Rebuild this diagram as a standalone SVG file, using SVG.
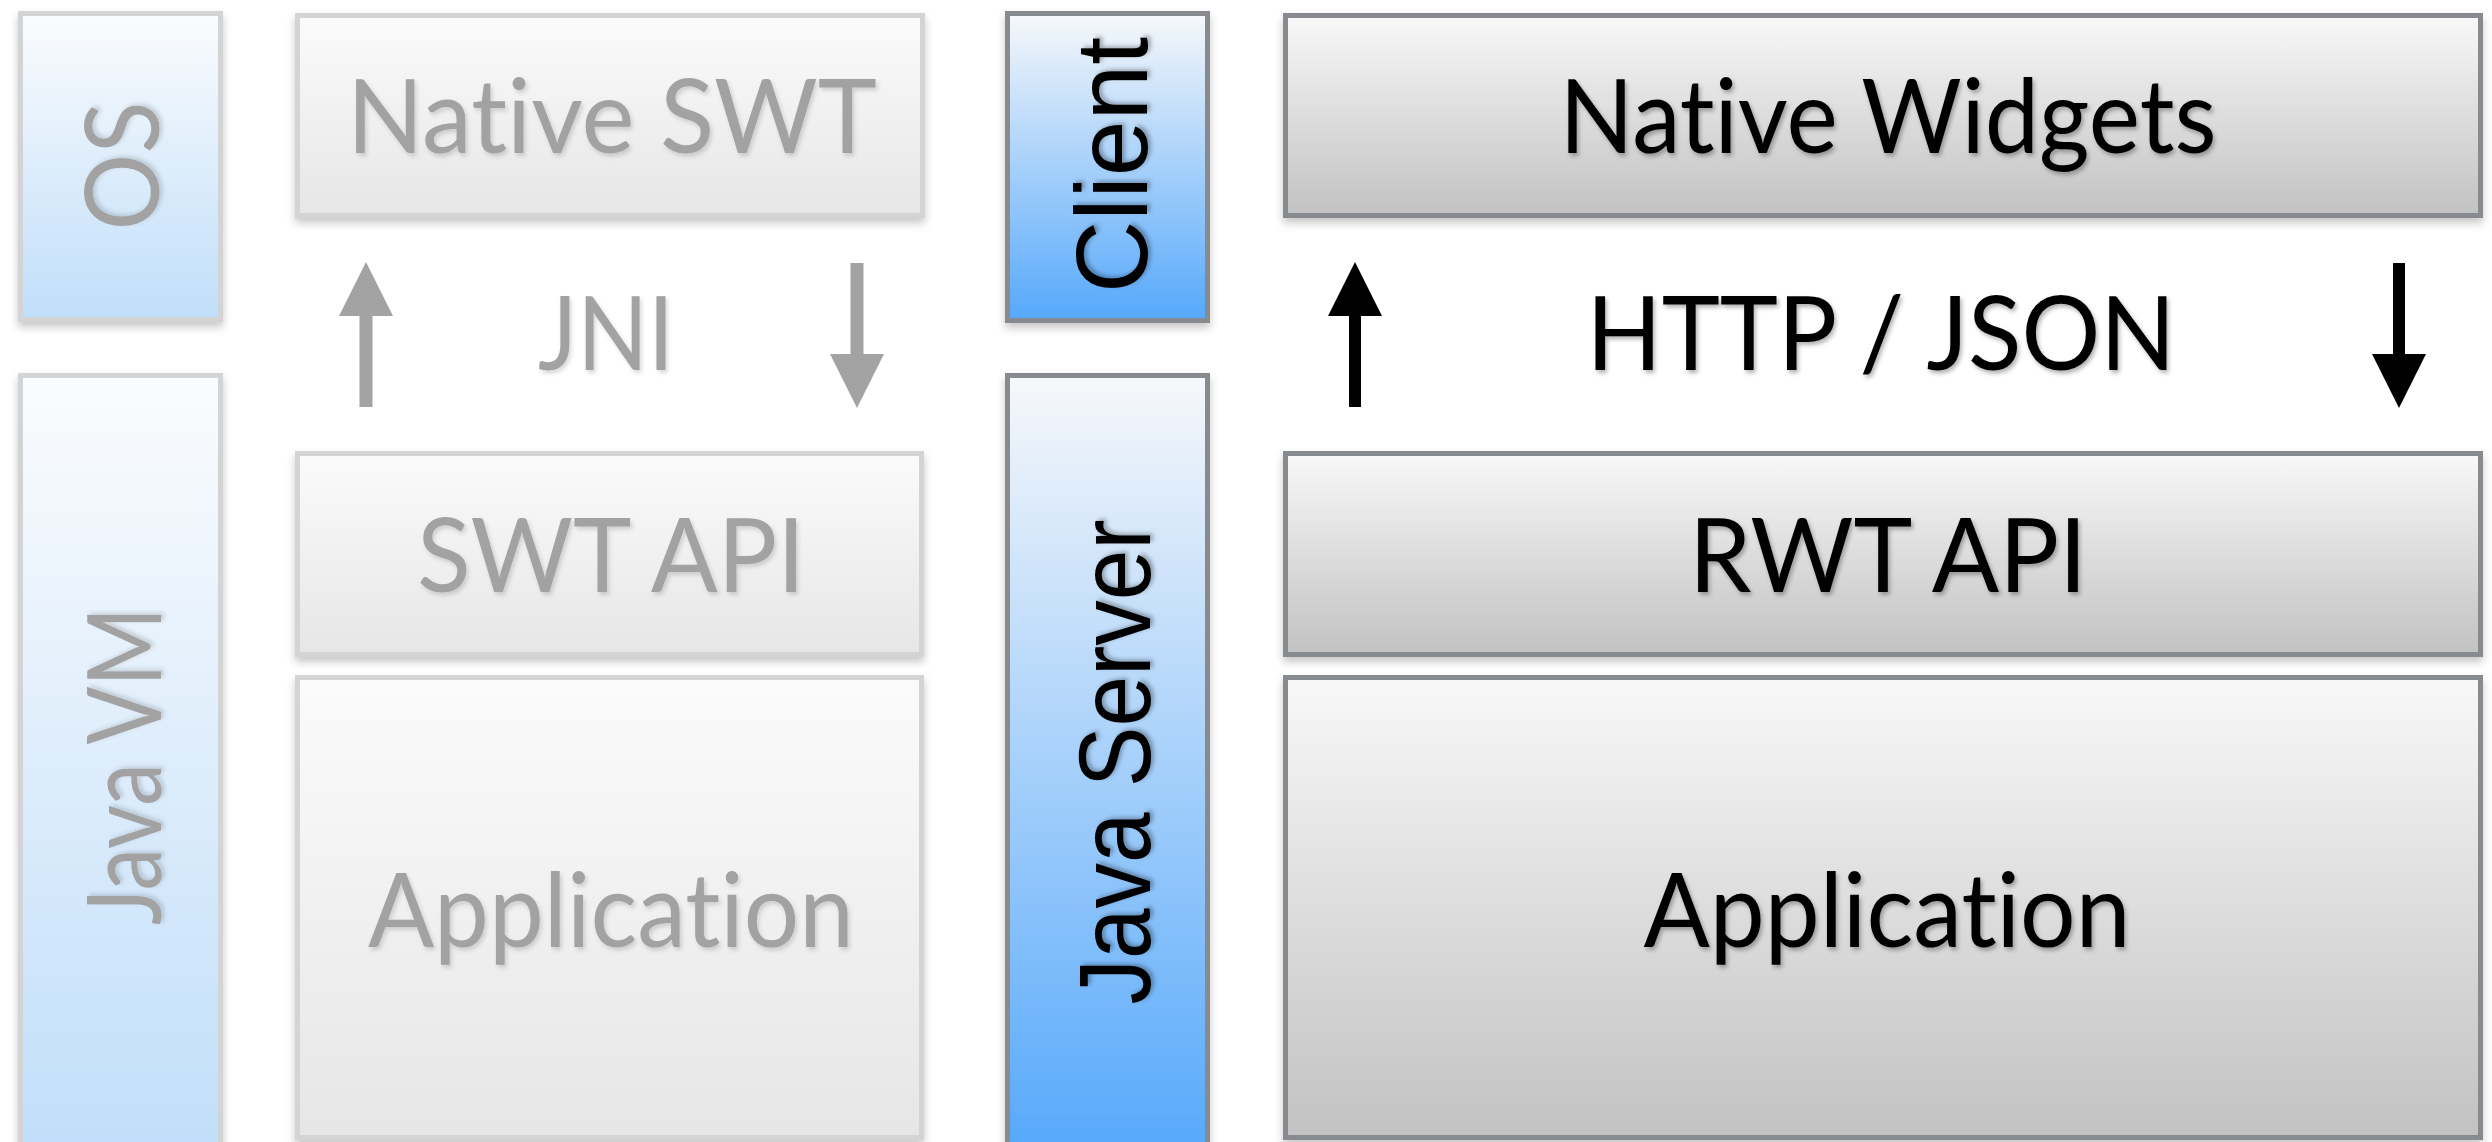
<svg xmlns="http://www.w3.org/2000/svg" width="2492" height="1142" viewBox="0 0 2492 1142">
  <defs>
    <linearGradient id="gBlueFaint" x1="0" y1="0" x2="0" y2="1">
      <stop offset="0" stop-color="#fbfcfd"/>
      <stop offset="1" stop-color="#c0defa"/>
    </linearGradient>
    <linearGradient id="gBlue" x1="0" y1="0" x2="0" y2="1">
      <stop offset="0" stop-color="#f7f8fa"/>
      <stop offset="1" stop-color="#55a8fb"/>
    </linearGradient>
    <linearGradient id="gGreyFaint" x1="0" y1="0" x2="0" y2="1">
      <stop offset="0" stop-color="#fbfbfb"/>
      <stop offset="1" stop-color="#e6e6e6"/>
    </linearGradient>
    <linearGradient id="gGrey" x1="0" y1="0" x2="0" y2="1">
      <stop offset="0" stop-color="#f8f8f8"/>
      <stop offset="1" stop-color="#c2c2c2"/>
    </linearGradient>
    <filter id="boxShadow" x="-5%" y="-5%" width="110%" height="115%">
      <feDropShadow dx="0" dy="5" stdDeviation="4" flood-color="#000" flood-opacity="0.22"/>
    </filter>
    <filter id="textShadow" x="-5%" y="-10%" width="110%" height="130%">
      <feDropShadow dx="2" dy="3" stdDeviation="2" flood-color="#000" flood-opacity="0.3"/>
    </filter>
    <filter id="textShadowFaint" x="-5%" y="-10%" width="110%" height="130%">
      <feDropShadow dx="2" dy="3" stdDeviation="2" flood-color="#000" flood-opacity="0.15"/>
    </filter>
    <marker id="headGrey" markerUnits="userSpaceOnUse" markerWidth="54" markerHeight="54" refX="0" refY="27" orient="auto" viewBox="0 0 54 54">
      <path d="M0,0 L54,27 L0,54 z" fill="#a3a3a3"/>
    </marker>
    <marker id="headBlack" markerUnits="userSpaceOnUse" markerWidth="54" markerHeight="54" refX="0" refY="27" orient="auto" viewBox="0 0 54 54">
      <path d="M0,0 L54,27 L0,54 z" fill="#000"/>
    </marker>
  </defs>
  <style>
    .boxFaint { stroke: #d3d4d6; stroke-width: 5; filter: url(#boxShadow); }
    .box { stroke: #878b8f; stroke-width: 5; filter: url(#boxShadow); }
    .gill { font-family: Lato, "Open Sans", sans-serif; font-size: 102px; text-anchor: middle; font-variant-ligatures: none; font-feature-settings: "liga" 0, "clig" 0, "dlig" 0; }
    .helv { font-family: "Liberation Sans", Arial, sans-serif; font-size: 102px; text-anchor: middle; fill: #000; filter: url(#textShadow); }
    .faint { fill: #a2a2a2; filter: url(#textShadowFaint); }
    .dark { fill: #000; filter: url(#textShadow); }
  </style>

  <!-- Left (SWT) side -->
  <g id="os">
    <rect class="boxFaint" x="20.5" y="13.5" width="200" height="306" fill="url(#gBlueFaint)"/>
    <text class="gill faint" transform="translate(159,166) rotate(-90)" x="0" y="0" textLength="129" lengthAdjust="spacingAndGlyphs">OS</text>
  </g>
  <g id="java-vm">
    <rect class="boxFaint" x="20.5" y="375.5" width="200" height="780" fill="url(#gBlueFaint)"/>
    <text class="gill faint" transform="translate(161,766) rotate(-90)" x="0" y="0" textLength="318" lengthAdjust="spacingAndGlyphs">Java VM</text>
  </g>
  <g id="native-swt">
    <rect class="boxFaint" x="297.5" y="15.5" width="625" height="200" fill="url(#gGreyFaint)"/>
    <text class="gill faint" x="612" y="153" textLength="530" lengthAdjust="spacingAndGlyphs">Native SWT</text>
  </g>
  <g id="jni">
    <text class="gill faint" x="606" y="370" textLength="136" lengthAdjust="spacingAndGlyphs">JNI</text>
  </g>
  <g id="swt-api">
    <rect class="boxFaint" x="297.5" y="453.5" width="624" height="201" fill="url(#gGreyFaint)"/>
    <text class="gill faint" x="611" y="592" textLength="388" lengthAdjust="spacingAndGlyphs">SWT API</text>
  </g>
  <g id="application-swt">
    <rect class="boxFaint" x="297.5" y="677.5" width="624" height="460" fill="url(#gGreyFaint)"/>
    <text class="gill faint" x="611" y="947" textLength="486" lengthAdjust="spacingAndGlyphs">Application</text>
  </g>

  <!-- Right (RAP) side -->
  <g id="client">
    <rect class="box" x="1007.5" y="13.5" width="200" height="307" fill="url(#gBlue)"/>
    <text class="helv" transform="translate(1147,165) rotate(-90)" x="0" y="0" textLength="256" lengthAdjust="spacingAndGlyphs">Client</text>
  </g>
  <g id="java-server">
    <rect class="box" x="1007.5" y="375.5" width="200" height="780" fill="url(#gBlue)"/>
    <text class="helv" transform="translate(1150,762) rotate(-90)" x="0" y="0" textLength="485" lengthAdjust="spacingAndGlyphs">Java Server</text>
  </g>
  <g id="native-widgets">
    <rect class="box" x="1285.5" y="15.5" width="1195" height="200" fill="url(#gGrey)"/>
    <text class="gill dark" x="1888" y="153" textLength="657" lengthAdjust="spacingAndGlyphs">Native Widgets</text>
  </g>
  <g id="http-json">
    <text class="gill dark" x="1881" y="370" textLength="589" lengthAdjust="spacingAndGlyphs">HTTP / JSON</text>
  </g>
  <g id="rwt-api">
    <rect class="box" x="1285.5" y="453.5" width="1195" height="201" fill="url(#gGrey)"/>
    <text class="gill dark" x="1888" y="592" textLength="398" lengthAdjust="spacingAndGlyphs">RWT API</text>
  </g>
  <g id="application-rap">
    <rect class="box" x="1285.5" y="677.5" width="1195" height="460" fill="url(#gGrey)"/>
    <text class="gill dark" x="1887" y="947" textLength="487" lengthAdjust="spacingAndGlyphs">Application</text>
  </g>

  <!-- Connectors -->
  <g id="connectors">
    <line x1="366" y1="407" x2="366" y2="316" stroke="#a3a3a3" stroke-width="13" marker-end="url(#headGrey)"/>
    <line x1="857" y1="263" x2="857" y2="354" stroke="#a3a3a3" stroke-width="13" marker-end="url(#headGrey)"/>
    <line x1="1355" y1="407" x2="1355" y2="316" stroke="#000" stroke-width="12" marker-end="url(#headBlack)"/>
    <line x1="2399" y1="263" x2="2399" y2="354" stroke="#000" stroke-width="12" marker-end="url(#headBlack)"/>
  </g>
</svg>
